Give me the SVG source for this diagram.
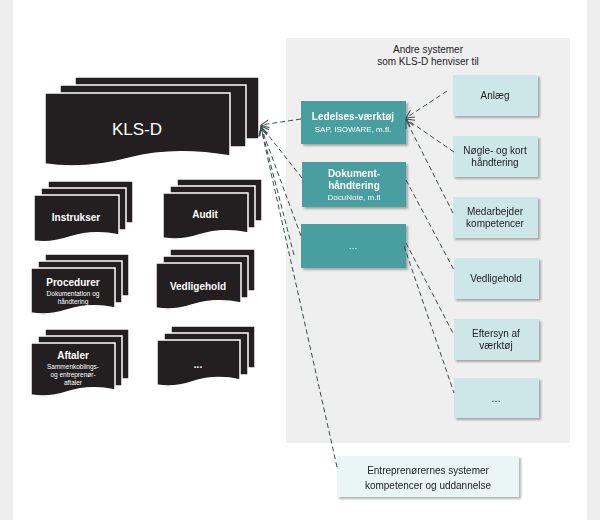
<svg xmlns="http://www.w3.org/2000/svg" width="600" height="520" viewBox="0 0 600 520">
<defs>
<style>
.doc{fill:#231f20;stroke:#fff;stroke-width:1.5}
.wt{fill:#fff;font-family:"Liberation Sans",Arial,sans-serif;text-anchor:middle;font-weight:bold}
.teal{fill:#4a9ea0}
.lt{fill:#cde6e8}
.dt{fill:#222;font-family:"Liberation Sans",Arial,sans-serif;text-anchor:middle;font-size:10px}
.ln{fill:none;stroke:#3a4f4c;stroke-width:1;stroke-dasharray:5,3}
</style>
<marker id="ar" markerWidth="10" markerHeight="10" refX="9" refY="5" orient="auto" markerUnits="userSpaceOnUse"><path d="M1,1 L9,5 L1,9" fill="none" stroke="#3a4f4c" stroke-width="1"/></marker>
<filter id="sh" x="-10%" y="-10%" width="130%" height="130%"><feDropShadow dx="2" dy="2" stdDeviation="1.2" flood-color="#000" flood-opacity="0.3"/></filter>
</defs>
<rect width="600" height="520" fill="#eeeeee"/>
<rect x="13" y="0" width="574" height="520" fill="#fff"/>
<rect x="286" y="38" width="284" height="405" fill="#efefef"/>
<text class="dt" x="428" y="53">Andre systemer</text>
<text class="dt" x="428" y="65">som KLS-D henviser til</text>

<g id="kls-d">
<rect class="doc" x="75" y="77" width="184" height="62"/>
<rect class="doc" x="60" y="85" width="186" height="62"/>
<path class="doc" d="M45,93 H230 V156 C195,150 160,150 130,158 C100,166 70,168 45,164 Z"/>
<text class="wt" x="137" y="135" font-size="17" font-weight="normal" style="font-weight:normal">KLS-D</text>
</g>

<g id="instrukser">
<rect class="doc" x="48" y="181" width="85" height="42"/>
<rect class="doc" x="41" y="188" width="85" height="42"/>
<path class="doc" d="M34,195 H119 V235 C100,231 85,232 70,237 C55,242 45,243 34,241 Z"/>
<text class="wt" x="76" y="221" font-size="10">Instrukser</text>
</g>
<g id="audit">
<rect class="doc" x="177" y="179" width="85" height="42"/>
<rect class="doc" x="170" y="186" width="85" height="42"/>
<path class="doc" d="M163,193 H248 V233 C229,229 214,230 199,235 C184,240 174,240 163,238 Z"/>
<text class="wt" x="205" y="218" font-size="10">Audit</text>
</g>
<g id="procedurer">
<rect class="doc" x="45" y="254" width="84" height="42"/>
<rect class="doc" x="38" y="261" width="84" height="42"/>
<path class="doc" d="M31,268 H115 V308 C96,304 82,305 67,310 C52,315 42,315 31,313 Z"/>
<text class="wt" x="73" y="286" font-size="10">Procedurer</text>
<text class="wt" x="73" y="296" font-size="6.5" style="font-weight:normal">Dokumentation og</text>
<text class="wt" x="73" y="304" font-size="6.5" style="font-weight:normal">håndtering</text>
</g>
<g id="vedligehold-k">
<rect class="doc" x="170" y="249" width="85" height="42"/>
<rect class="doc" x="163" y="256" width="85" height="42"/>
<path class="doc" d="M156,263 H241 V303 C222,299 207,300 192,305 C177,310 167,310 156,308 Z"/>
<text class="wt" x="198" y="290" font-size="10">Vedligehold</text>
</g>
<g id="aftaler">
<rect class="doc" x="45" y="329" width="84" height="50"/>
<rect class="doc" x="38" y="336" width="84" height="50"/>
<path class="doc" d="M31,343 H115 V390 C96,386 82,387 67,392 C52,397 42,397 31,395 Z"/>
<text class="wt" x="73" y="359" font-size="10">Aftaler</text>
<text class="wt" x="73" y="369" font-size="6.5" style="font-weight:normal">Sammenkoblings-</text>
<text class="wt" x="73" y="377" font-size="6.5" style="font-weight:normal">og entreprenør-</text>
<text class="wt" x="73" y="385" font-size="6.5" style="font-weight:normal">aftaler</text>
</g>
<g id="dots-k">
<rect class="doc" x="171" y="326" width="84" height="42"/>
<rect class="doc" x="164" y="333" width="84" height="42"/>
<path class="doc" d="M157,340 H240 V380 C222,376 207,377 192,382 C177,387 167,387 157,385 Z"/>
<text class="wt" x="198" y="368" font-size="10">...</text>
</g>

<g id="ledelses" filter="url(#sh)">
<rect class="teal" x="301" y="101" width="105" height="43"/>
<text class="wt" x="353" y="120" font-size="10">Ledelses-værktøj</text>
<text class="wt" x="353" y="132" font-size="8" style="font-weight:normal">SAP, ISOWARE, m.fl.</text>
</g>
<g id="dokument" filter="url(#sh)">
<rect class="teal" x="302" y="162" width="104" height="45"/>
<text class="wt" x="354" y="177" font-size="10">Dokument-</text>
<text class="wt" x="354" y="189" font-size="10">håndtering</text>
<text class="wt" x="354" y="200" font-size="8" style="font-weight:normal">DocuNote, m.fl</text>
</g>
<g id="dots-t" filter="url(#sh)">
<rect class="teal" x="301" y="224" width="105" height="44"/>
<text class="wt" x="353" y="249" font-size="9" style="font-weight:normal">…</text>
</g>

<g id="anlaeg" filter="url(#sh)"><rect class="lt" x="453" y="75" width="85" height="41"/><text class="dt" x="495" y="99">Anlæg</text></g>
<g id="noegle" filter="url(#sh)"><rect class="lt" x="453" y="136" width="85" height="41"/><text class="dt" x="495" y="154">Nøgle- og kort</text><text class="dt" x="495" y="166">håndtering</text></g>
<g id="medarbejder" filter="url(#sh)"><rect class="lt" x="453" y="197" width="85" height="41"/><text class="dt" x="495" y="215">Medarbejder</text><text class="dt" x="495" y="227">kompetencer</text></g>
<g id="vedligehold" filter="url(#sh)"><rect class="lt" x="454" y="258" width="85" height="41"/><text class="dt" x="496" y="282">Vedligehold</text></g>
<g id="eftersyn" filter="url(#sh)"><rect class="lt" x="454" y="319" width="85" height="41"/><text class="dt" x="496" y="337">Eftersyn af</text><text class="dt" x="496" y="349">værktøj</text></g>
<g id="dots-l" filter="url(#sh)"><rect class="lt" x="454" y="378" width="85" height="40"/><text class="dt" x="496" y="402">…</text></g>
<g id="entreprenoer" filter="url(#sh)"><rect x="337" y="456" width="182" height="41" fill="#eaf5f6"/><text class="dt" x="428" y="474" font-size="11.5">Entreprenørernes systemer</text><text class="dt" x="428" y="489" font-size="11.5">kompetencer og uddannelse</text></g>

<g id="connectors">
<path class="ln" d="M301,119 L261,125" marker-end="url(#ar)"/>
<path class="ln" d="M302,178 L261,126" marker-end="url(#ar)"/>
<path class="ln" d="M301,236 L261,127" marker-end="url(#ar)"/>
<path class="ln" d="M294,255 L261,127" marker-end="url(#ar)"/>
<path class="ln" d="M337,467 L261,128" marker-end="url(#ar)"/>
<path class="ln" d="M447,91 L406,118" marker-end="url(#ar)"/>
<path class="ln" d="M454,152 L406,119" marker-end="url(#ar)"/>
<path class="ln" d="M453,213 L406,120" marker-end="url(#ar)"/>
<path class="ln" d="M406,180 L454,270"/>
<path class="ln" d="M406,243 L454,335"/>
<path class="ln" d="M404,246 L454,393"/>
</g>
</svg>
